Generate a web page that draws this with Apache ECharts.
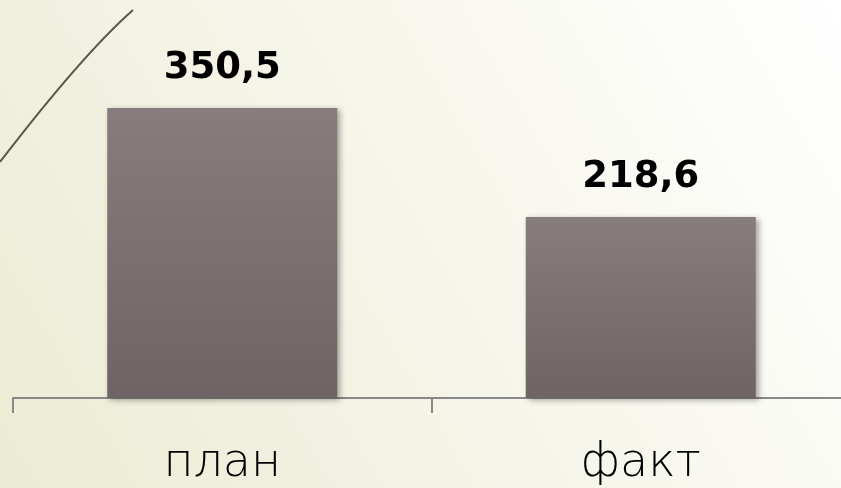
<!DOCTYPE html>
<html><head><meta charset="utf-8">
<script src="https://cdn.jsdelivr.net/npm/echarts@6/dist/echarts.min.js"></script>
<style>html,body{margin:0;padding:0;}#c{width:841px;height:488px;}</style>
</head><body><div id="c"></div>
<script>
const categories = ['план', 'факт'];
const values = [350.5, 218.6];
const labels = ['350,5', '218,6'];

const chart = echarts.init(document.getElementById('c'));
chart.setOption({
  animation: false,
  backgroundColor: {
    type: 'linear', x: 0, y: 1, x2: 1, y2: 0,
    colorStops: [
      {offset: 0, color: '#ECEBD3'},
      {offset: 0.5, color: '#F6F5EA'},
      {offset: 1, color: '#FFFFFF'}
    ]
  },
  graphic: [{
    type: 'bezierCurve',
    shape: {x1: 0, y1: 162, cpx1: 83, cpy1: 54, x2: 133, y2: 10},
    style: {stroke: '#5E5449', lineWidth: 2, fill: null}
  }],
  grid: {left: 13, right: -9, top: 67, bottom: 90, containLabel: false, outerBoundsMode: 'none'},
  xAxis: {
    type: 'category',
    data: categories,
    axisLine: {lineStyle: {color: '#888888', width: 2}},
    axisTick: {show: true, length: 15, lineStyle: {color: '#888888', width: 2}},
    axisLabel: {
      margin: 43,
      color: '#000000',
      fontFamily: 'DejaVu Sans',
      fontWeight: 200,
      fontSize: 46
    }
  },
  yAxis: {
    type: 'value', min: 0, max: 400, show: false,
    splitLine: {show: false}
  },
  series: [{
    type: 'bar',
    data: values,
    barWidth: 230,
    itemStyle: {
      color: {
        type: 'linear', x: 0, y: 0, x2: 0, y2: 1,
        colorStops: [{offset: 0, color: '#877C7E'}, {offset: 1, color: '#6E6466'}]
      },
      shadowBlur: 6, shadowOffsetX: 3, shadowOffsetY: 2,
      shadowColor: 'rgba(0,0,0,0.35)'
    },
    label: {
      show: true,
      position: 'top',
      distance: 21,
      color: '#000000',
      fontFamily: 'DejaVu Sans',
      fontWeight: 'bold',
      fontSize: 37,
      formatter: p => labels[p.dataIndex]
    }
  }]
});
</script></body></html>
